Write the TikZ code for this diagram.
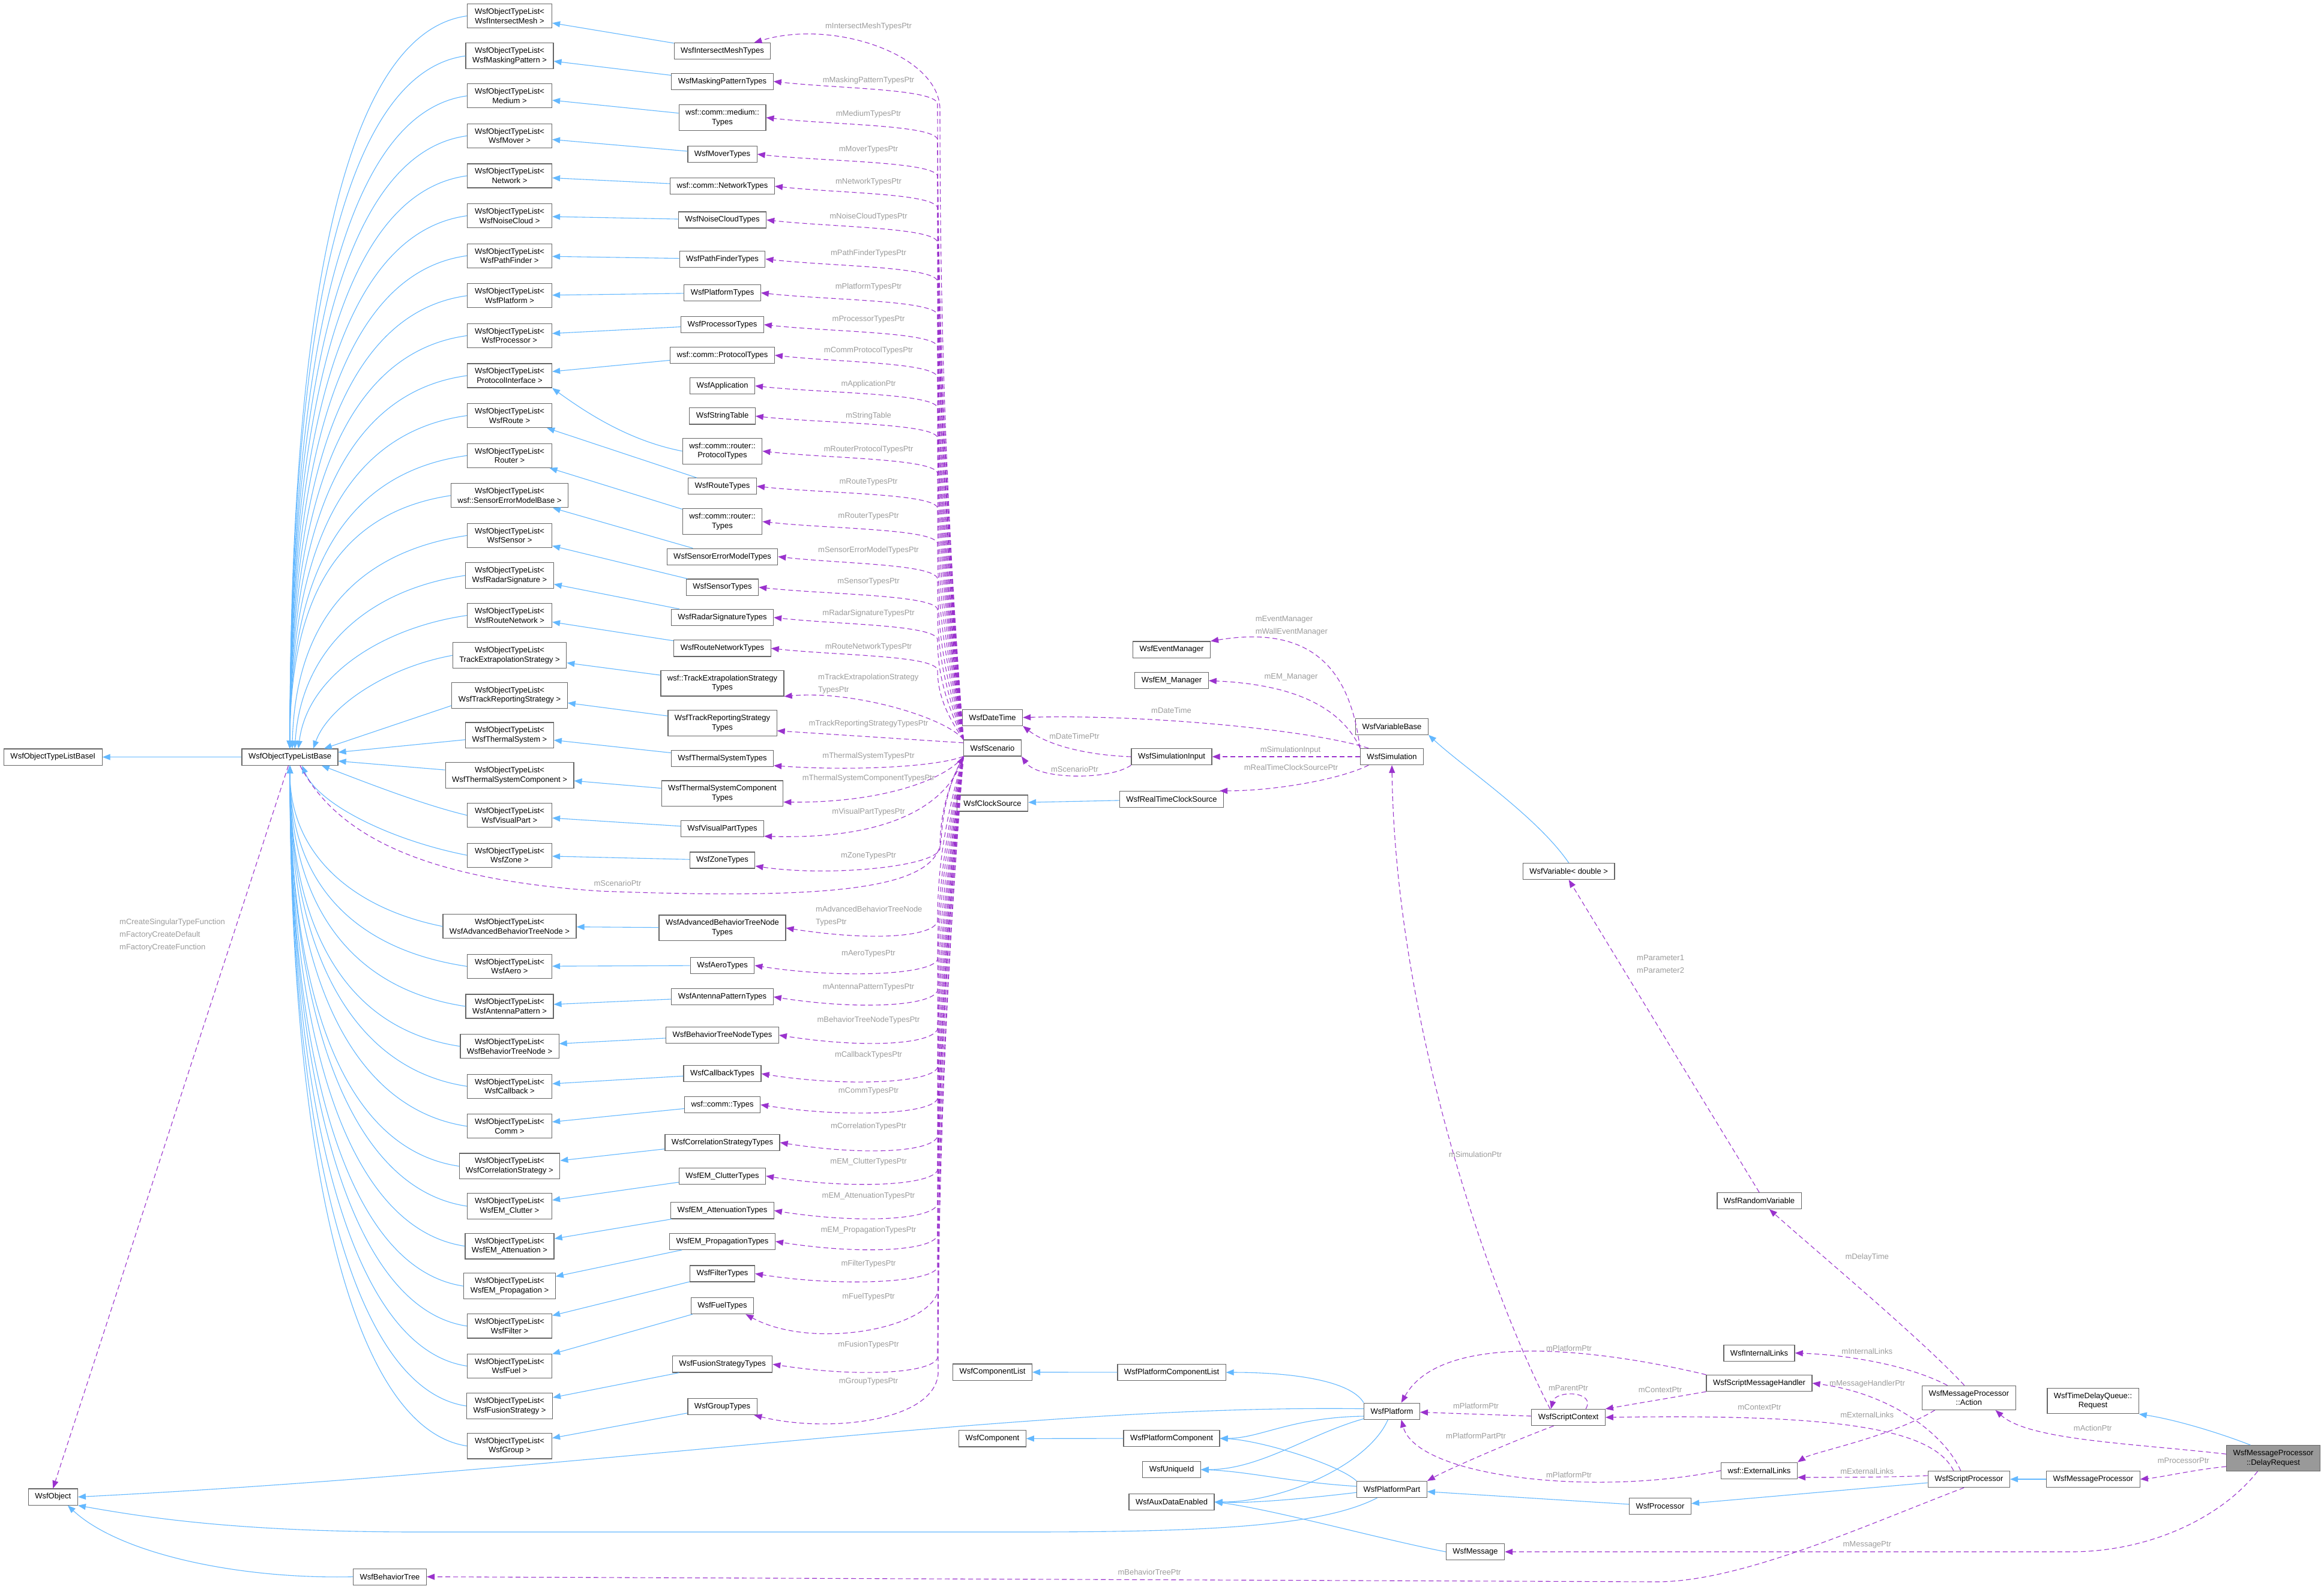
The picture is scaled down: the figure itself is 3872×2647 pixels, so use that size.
\documentclass[tikz,border=0pt]{standalone}
\usepackage{fontspec}
\setmainfont{Liberation Sans}
\usepackage{tikz}
\usetikzlibrary{positioning}
\usetikzlibrary{arrows.meta}

\definecolor{edgeBlue}{HTML}{63B8FF}
\definecolor{edgePurple}{HTML}{9A32CD}
\definecolor{labelGray}{HTML}{9C9C9C}
\definecolor{boxGray}{HTML}{666666}
\definecolor{focusGray}{HTML}{999999}

\begin{document}
\begin{tikzpicture}[x=1pt, y=-1pt,
	cls/.style={rectangle, draw=boxGray, fill=white, line width=1.2pt, inner xsep=11pt, inner ysep=7.5pt, minimum height=27pt, align=center, font=\fontsize{13pt}{15.6pt}\selectfont},
	tlist/.style={cls, minimum width=141pt},
	focus/.style={cls, fill=focusGray},
	inherit/.style={draw=edgeBlue, line width=1.1pt, -{Triangle[length=13pt,width=10pt]}},
	member/.style={draw=edgePurple, line width=1.1pt, dash pattern=on 8pt off 5pt, -{Triangle[length=13pt,width=10pt]}},
	lbl/.style={text=labelGray, inner sep=0pt, align=left, font=\fontsize{13pt}{21pt}\selectfont}]

		\useasboundingbox[fill=white] (0,0) rectangle (3872,2647);

		\node[cls](listBaseI) at (88.3,1261.6){WsfObjectTypeListBaseI};
		\node[cls](listBase) at (483,1261.6){WsfObjectTypeListBase};
		\node[cls](wsfObject) at (88.3,2494.6){WsfObject};
		\node[cls](behaviorTree) at (649.5,2627.6){WsfBehaviorTree};

		\node[tlist](intersectMeshList) at (849,26.6){WsfObjectTypeList<\\WsfIntersectMesh >};
		\node[tlist](maskingPatternList) at (849,93.2){WsfObjectTypeList<\\WsfMaskingPattern >};
		\node[tlist](mediumList) at (849,159.8){WsfObjectTypeList<\\Medium >};
		\node[tlist](moverList) at (849,226.4){WsfObjectTypeList<\\WsfMover >};
		\node[tlist](networkList) at (849,293.0){WsfObjectTypeList<\\Network >};
		\node[tlist](noiseCloudList) at (849,359.6){WsfObjectTypeList<\\WsfNoiseCloud >};
		\node[tlist](pathFinderList) at (849,426.2){WsfObjectTypeList<\\WsfPathFinder >};
		\node[tlist](platformList) at (849,492.8){WsfObjectTypeList<\\WsfPlatform >};
		\node[tlist](processorList) at (849,559.4){WsfObjectTypeList<\\WsfProcessor >};
		\node[tlist](protocolList) at (849,626.0){WsfObjectTypeList<\\ProtocolInterface >};
		\node[tlist](routeList) at (849,692.6){WsfObjectTypeList<\\WsfRoute >};
		\node[tlist](routerList) at (849,759.2){WsfObjectTypeList<\\Router >};
		\node[tlist](sensorErrorList) at (849,825.8){WsfObjectTypeList<\\wsf::SensorErrorModelBase >};
		\node[tlist](sensorList) at (849,892.4){WsfObjectTypeList<\\WsfSensor >};
		\node[tlist](radarSigList) at (849,959.0){WsfObjectTypeList<\\WsfRadarSignature >};
		\node[tlist](routeNetList) at (849,1025.6){WsfObjectTypeList<\\WsfRouteNetwork >};
		\node[tlist](trackExtrapList) at (849,1092.2){WsfObjectTypeList<\\TrackExtrapolationStrategy >};
		\node[tlist](trackReportList) at (849,1158.8){WsfObjectTypeList<\\WsfTrackReportingStrategy >};
		\node[tlist](thermalList) at (849,1225.4){WsfObjectTypeList<\\WsfThermalSystem >};
		\node[tlist](thermalCompList) at (849,1292.0){WsfObjectTypeList<\\WsfThermalSystemComponent >};
		\node[tlist](visualPartList) at (849,1358.6){WsfObjectTypeList<\\WsfVisualPart >};
		\node[tlist](zoneList) at (849,1425.2){WsfObjectTypeList<\\WsfZone >};
		\node[tlist](advTreeList) at (849,1543.8){WsfObjectTypeList<\\WsfAdvancedBehaviorTreeNode >};
		\node[tlist](aeroList) at (849,1610.4){WsfObjectTypeList<\\WsfAero >};
		\node[tlist](antennaList) at (849,1677.0){WsfObjectTypeList<\\WsfAntennaPattern >};
		\node[tlist](treeNodeList) at (849,1743.6){WsfObjectTypeList<\\WsfBehaviorTreeNode >};
		\node[tlist](callbackList) at (849,1810.2){WsfObjectTypeList<\\WsfCallback >};
		\node[tlist](commList) at (849,1876.8){WsfObjectTypeList<\\Comm >};
		\node[tlist](correlationList) at (849,1943.4){WsfObjectTypeList<\\WsfCorrelationStrategy >};
		\node[tlist](clutterList) at (849,2010.0){WsfObjectTypeList<\\WsfEM\_Clutter >};
		\node[tlist](attenuationList) at (849,2076.6){WsfObjectTypeList<\\WsfEM\_Attenuation >};
		\node[tlist](propagationList) at (849,2143.2){WsfObjectTypeList<\\WsfEM\_Propagation >};
		\node[tlist](filterList) at (849,2209.8){WsfObjectTypeList<\\WsfFilter >};
		\node[tlist](fuelList) at (849,2276.4){WsfObjectTypeList<\\WsfFuel >};
		\node[tlist](fusionList) at (849,2343.0){WsfObjectTypeList<\\WsfFusionStrategy >};
		\node[tlist](groupList) at (849,2409.6){WsfObjectTypeList<\\WsfGroup >};

		\node[cls](intersectMeshTypes) at (1203.5,85.3){WsfIntersectMeshTypes};
		\node[cls](maskingPatternTypes) at (1203.5,135.7){WsfMaskingPatternTypes};
		\node[cls](mediumTypes) at (1203.5,196){wsf::comm::medium::\\Types};
		\node[cls](moverTypes) at (1203.5,257){WsfMoverTypes};
		\node[cls](networkTypes) at (1203.5,310.3){wsf::comm::NetworkTypes};
		\node[cls](noiseCloudTypes) at (1203.5,366.5){WsfNoiseCloudTypes};
		\node[cls](pathFinderTypes) at (1203.5,431.7){WsfPathFinderTypes};
		\node[cls](platformTypes) at (1203.5,488){WsfPlatformTypes};
		\node[cls](processorTypes) at (1203.5,541){WsfProcessorTypes};
		\node[cls](protocolTypes) at (1203.5,592){wsf::comm::ProtocolTypes};
		\node[cls](application) at (1203.5,643){WsfApplication};
		\node[cls](stringTable) at (1203.5,693.4){WsfStringTable};
		\node[cls](routerProtocolTypes) at (1203.5,751.8){wsf::comm::router::\\ProtocolTypes};
		\node[cls](routeTypes) at (1203.5,810.3){WsfRouteTypes};
		\node[cls](routerTypes) at (1203.5,869.2){wsf::comm::router::\\Types};
		\node[cls](sensorErrorTypes) at (1203.5,927.7){WsfSensorErrorModelTypes};
		\node[cls](sensorTypes) at (1203.5,978.6){WsfSensorTypes};
		\node[cls](radarSigTypes) at (1203.5,1029){WsfRadarSignatureTypes};
		\node[cls](routeNetTypes) at (1203.5,1080.4){WsfRouteNetworkTypes};
		\node[cls](trackExtrapTypes) at (1203.5,1138.6){wsf::TrackExtrapolationStrategy\\Types};
		\node[cls](trackReportTypes) at (1203.5,1205){WsfTrackReportingStrategy\\Types};
		\node[cls](thermalTypes) at (1203.5,1263.8){WsfThermalSystemTypes};
		\node[cls](thermalCompTypes) at (1203.5,1322.3){WsfThermalSystemComponent\\Types};
		\node[cls](visualPartTypes) at (1203.5,1381.25){WsfVisualPartTypes};
		\node[cls](zoneTypes) at (1203.5,1433.5){WsfZoneTypes};
		\node[cls](advTreeTypes) at (1203.5,1546.4){WsfAdvancedBehaviorTreeNode\\Types};
		\node[cls](aeroTypes) at (1203.5,1608.9){WsfAeroTypes};
		\node[cls](antennaTypes) at (1203.5,1661.2){WsfAntennaPatternTypes};
		\node[cls](treeNodeTypes) at (1203.5,1725){WsfBehaviorTreeNodeTypes};
		\node[cls](callbackTypes) at (1203.5,1789.3){WsfCallbackTypes};
		\node[cls](commTypes) at (1203.5,1841){wsf::comm::Types};
		\node[cls](correlationTypes) at (1203.5,1904){WsfCorrelationStrategyTypes};
		\node[cls](clutterTypes) at (1203.5,1959.8){WsfEM\_ClutterTypes};
		\node[cls](attenuationTypes) at (1203.5,2017.4){WsfEM\_AttenuationTypes};
		\node[cls](propagationTypes) at (1203.5,2068.8){WsfEM\_PropagationTypes};
		\node[cls](filterTypes) at (1203.5,2122.5){WsfFilterTypes};
		\node[cls](fuelTypes) at (1203.5,2176){WsfFuelTypes};
		\node[cls](fusionTypes) at (1203.5,2273.4){WsfFusionStrategyTypes};
		\node[cls](groupTypes) at (1203.5,2344){WsfGroupTypes};

		\node[cls](dateTime) at (1653.5,1195.7){WsfDateTime};
		\node[cls](scenario) at (1653.5,1246.4){WsfScenario};
		\node[cls](clockSource) at (1653.5,1338.4){WsfClockSource};
		\node[cls](componentList) at (1653.5,2286.6){WsfComponentList};
		\node[cls](component) at (1653.5,2397.4){WsfComponent};

		\node[cls](eventManager) at (1952,1082.6){WsfEventManager};
		\node[cls](emManager) at (1952,1134.3){WsfEM\_Manager};
		\node[cls](simInput) at (1952,1261){WsfSimulationInput};
		\node[cls](rtClock) at (1952,1332){WsfRealTimeClockSource};
		\node[cls](platCompList) at (1952,2287){WsfPlatformComponentList};
		\node[cls](platComp) at (1952,2397){WsfPlatformComponent};
		\node[cls](uniqueId) at (1952,2449){WsfUniqueId};
		\node[cls](auxData) at (1952,2503){WsfAuxDataEnabled};

		\node[cls](varBase) at (2319,1210.6){WsfVariableBase};
		\node[cls](simulation) at (2319,1261){WsfSimulation};
		\node[cls](platform) at (2319,2351.7){WsfPlatform};
		\node[cls](platformPart) at (2319,2482){WsfPlatformPart};
		\node[cls](wsfMessage) at (2458,2586){WsfMessage};
		\node[cls](varDouble) at (2613.7,1452){WsfVariable< double >};
		\node[cls](scriptContext) at (2613,2362){WsfScriptContext};
		\node[cls](wsfProcessor) at (2766,2510){WsfProcessor};

		\node[cls](randVar) at (2931,2001){WsfRandomVariable};
		\node[cls](internalLinks) at (2931,2254.7){WsfInternalLinks};
		\node[cls](msgHandler) at (2931,2305){WsfScriptMessageHandler};
		\node[cls](externalLinks) at (2931,2450.7){wsf::ExternalLinks};

		\node[cls](action) at (3280.3,2329.3){WsfMessageProcessor\\::Action};
		\node[cls](scriptProc) at (3280.3,2465){WsfScriptProcessor};
		\node[cls](delayQueueReq) at (3487,2334.5){WsfTimeDelayQueue::\\Request};
		\node[cls](msgProc) at (3487.4,2465){WsfMessageProcessor};
		\node[focus](delayReq) at (3787.5,2430){WsfMessageProcessor\\::DelayRequest};

		\draw[inherit] (listBase) -- (listBaseI);

		\draw[inherit] (intersectMeshTypes) -- (intersectMeshList);
		\draw[inherit] (maskingPatternTypes) -- (maskingPatternList);
		\draw[inherit] (mediumTypes) -- (mediumList);
		\draw[inherit] (moverTypes) -- (moverList);
		\draw[inherit] (networkTypes) -- (networkList);
		\draw[inherit] (noiseCloudTypes) -- (noiseCloudList);
		\draw[inherit] (pathFinderTypes) -- (pathFinderList);
		\draw[inherit] (platformTypes) -- (platformList);
		\draw[inherit] (processorTypes) -- (processorList);
		\draw[inherit] (protocolTypes) -- (protocolList);
		\draw[inherit] (routerProtocolTypes.west) .. controls (1050,735) and (980,690) .. (protocolList.south east);
		\draw[inherit] (routeTypes) -- (routeList);
		\draw[inherit] (routerTypes) -- (routerList);
		\draw[inherit] (sensorErrorTypes) -- (sensorErrorList);
		\draw[inherit] (sensorTypes) -- (sensorList);
		\draw[inherit] (radarSigTypes) -- (radarSigList);
		\draw[inherit] (routeNetTypes) -- (routeNetList);
		\draw[inherit] (trackExtrapTypes) -- (trackExtrapList);
		\draw[inherit] (trackReportTypes) -- (trackReportList);
		\draw[inherit] (thermalTypes) -- (thermalList);
		\draw[inherit] (thermalCompTypes) -- (thermalCompList);
		\draw[inherit] (visualPartTypes) -- (visualPartList);
		\draw[inherit] (zoneTypes) -- (zoneList);
		\draw[inherit] (advTreeTypes) -- (advTreeList);
		\draw[inherit] (aeroTypes) -- (aeroList);
		\draw[inherit] (antennaTypes) -- (antennaList);
		\draw[inherit] (treeNodeTypes) -- (treeNodeList);
		\draw[inherit] (callbackTypes) -- (callbackList);
		\draw[inherit] (commTypes) -- (commList);
		\draw[inherit] (correlationTypes) -- (correlationList);
		\draw[inherit] (clutterTypes) -- (clutterList);
		\draw[inherit] (attenuationTypes) -- (attenuationList);
		\draw[inherit] (propagationTypes) -- (propagationList);
		\draw[inherit] (filterTypes) -- (filterList);
		\draw[inherit] (fuelTypes) -- (fuelList);
		\draw[inherit] (fusionTypes) -- (fusionList);
		\draw[inherit] (groupTypes) -- (groupList);

		\draw[inherit] (intersectMeshList.west) .. controls +(-220,30) and +(0,-672) .. (listBase.north);
		\draw[inherit] (maskingPatternList.west) .. controls +(-220,30) and +(0,-635) .. (listBase.north);
		\draw[inherit] (mediumList.west) .. controls +(-220,30) and +(0,-598) .. (listBase.north);
		\draw[inherit] (moverList.west) .. controls +(-220,30) and +(0,-562) .. (listBase.north);
		\draw[inherit] (networkList.west) .. controls +(-220,30) and +(0,-525) .. (listBase.north);
		\draw[inherit] (noiseCloudList.west) .. controls +(-220,30) and +(0,-489) .. (listBase.north);
		\draw[inherit] (pathFinderList.west) .. controls +(-220,30) and +(0,-452) .. (listBase.north);
		\draw[inherit] (platformList.west) .. controls +(-220,30) and +(0,-415) .. (listBase.north);
		\draw[inherit] (processorList.west) .. controls +(-220,30) and +(0,-379) .. (listBase.north);
		\draw[inherit] (protocolList.west) .. controls +(-220,30) and +(0,-342) .. (listBase.north);
		\draw[inherit] (routeList.west) .. controls +(-220,30) and +(0,-305) .. (listBase.north);
		\draw[inherit] (routerList.west) .. controls +(-220,30) and +(0,-269) .. (listBase.north);
		\draw[inherit] (sensorErrorList.west) .. controls +(-200,30) and +(0,-232) .. (listBase.north);
		\draw[inherit] (sensorList.west) .. controls +(-200,30) and +(5,-196) .. (listBase.75);
		\draw[inherit] (radarSigList.west) .. controls +(-170,25) and +(10,-159) .. (listBase.60);
		\draw[inherit] (routeNetList.west) .. controls +(-140,20) and +(15,-122) .. (listBase.45);
		\draw[inherit] (trackExtrapList.west) .. controls +(-110,20) and +(25,-70) .. (listBase.20);
		\draw[inherit] (trackReportList.-170) -- (listBase.14);
		\draw[inherit] (thermalList) -- (listBase);
		\draw[inherit] (thermalCompList) -- (listBase);
		\draw[inherit] (visualPartList.west) .. controls (700,1340) and (600,1300) .. (listBase.-15);
		\draw[inherit] (zoneList.west) .. controls (650,1400) and (530,1340) .. (listBase.-35);
		\draw[inherit] (advTreeList.west) .. controls +(-150,-30) and +(0,148) .. (listBase.south);
		\draw[inherit] (aeroList.west) .. controls +(-200,-30) and +(0,184) .. (listBase.south);
		\draw[inherit] (antennaList.west) .. controls +(-200,-30) and +(0,221) .. (listBase.south);
		\draw[inherit] (treeNodeList.west) .. controls +(-200,-30) and +(0,258) .. (listBase.south);
		\draw[inherit] (callbackList.west) .. controls +(-200,-30) and +(0,294) .. (listBase.south);
		\draw[inherit] (commList.west) .. controls +(-200,-30) and +(0,331) .. (listBase.south);
		\draw[inherit] (correlationList.west) .. controls +(-200,-30) and +(0,368) .. (listBase.south);
		\draw[inherit] (clutterList.west) .. controls +(-200,-30) and +(0,404) .. (listBase.south);
		\draw[inherit] (attenuationList.west) .. controls +(-200,-30) and +(0,441) .. (listBase.south);
		\draw[inherit] (propagationList.west) .. controls +(-200,-30) and +(0,477) .. (listBase.south);
		\draw[inherit] (filterList.west) .. controls +(-200,-30) and +(0,514) .. (listBase.south);
		\draw[inherit] (fuelList.west) .. controls +(-200,-30) and +(0,551) .. (listBase.south);
		\draw[inherit] (fusionList.west) .. controls +(-200,-30) and +(0,587) .. (listBase.south);
		\draw[inherit] (groupList.west) .. controls +(-200,-30) and +(0,624) .. (listBase.south);

		\draw[member] (scenario.north west) .. controls +(-28,-369) and +(0,369) .. (1566,180) .. controls +(-4,-90) and +(130,-40) .. (intersectMeshTypes.15);
		\draw[member] (scenario.north west) .. controls +(-28,-371) and +(0,371) .. (1562,172) .. controls +(-8,-24) and +(110,12) .. (maskingPatternTypes.east);
		\draw[member] (scenario.north west) .. controls +(-28,-350) and +(0,350) .. (1562,232) .. controls +(-8,-24) and +(110,12) .. (mediumTypes.east);
		\draw[member] (scenario.north west) .. controls +(-28,-329) and +(0,329) .. (1562,293) .. controls +(-8,-24) and +(110,12) .. (moverTypes.east);
		\draw[member] (scenario.north west) .. controls +(-28,-310) and +(0,310) .. (1562,346) .. controls +(-8,-24) and +(110,12) .. (networkTypes.east);
		\draw[member] (scenario.north west) .. controls +(-28,-291) and +(0,291) .. (1562,403) .. controls +(-8,-24) and +(110,12) .. (noiseCloudTypes.east);
		\draw[member] (scenario.north west) .. controls +(-28,-268) and +(0,268) .. (1562,468) .. controls +(-8,-24) and +(110,12) .. (pathFinderTypes.east);
		\draw[member] (scenario.north west) .. controls +(-28,-248) and +(0,248) .. (1562,524) .. controls +(-8,-24) and +(110,12) .. (platformTypes.east);
		\draw[member] (scenario.north west) .. controls +(-28,-230) and +(0,230) .. (1562,577) .. controls +(-8,-24) and +(110,12) .. (processorTypes.east);
		\draw[member] (scenario.north west) .. controls +(-28,-212) and +(0,212) .. (1562,628) .. controls +(-8,-24) and +(110,12) .. (protocolTypes.east);
		\draw[member] (scenario.north west) .. controls +(-28,-194) and +(0,194) .. (1562,679) .. controls +(-8,-24) and +(110,12) .. (application.east);
		\draw[member] (scenario.north west) .. controls +(-28,-176) and +(0,176) .. (1562,729) .. controls +(-8,-24) and +(110,12) .. (stringTable.east);
		\draw[member] (scenario.north west) .. controls +(-28,-156) and +(0,156) .. (1562,788) .. controls +(-8,-24) and +(110,12) .. (routerProtocolTypes.east);
		\draw[member] (scenario.north west) .. controls +(-28,-135) and +(0,135) .. (1562,846) .. controls +(-8,-24) and +(110,12) .. (routeTypes.east);
		\draw[member] (scenario.north west) .. controls +(-28,-115) and +(0,115) .. (1562,905) .. controls +(-8,-24) and +(110,12) .. (routerTypes.east);
		\draw[member] (scenario.north west) .. controls +(-28,-94) and +(0,94) .. (1562,964) .. controls +(-8,-24) and +(110,12) .. (sensorErrorTypes.east);
		\draw[member] (scenario.north west) .. controls +(-28,-76) and +(0,76) .. (1562,1015) .. controls +(-8,-24) and +(110,12) .. (sensorTypes.east);
		\draw[member] (scenario.north west) .. controls +(-28,-59) and +(0,59) .. (1562,1065) .. controls +(-8,-24) and +(110,12) .. (radarSigTypes.east);
		\draw[member] (scenario.north west) .. controls +(-28,-41) and +(0,41) .. (1562,1116) .. controls +(-8,-24) and +(110,12) .. (routeNetTypes.east);
		\draw[member] (scenario.north west) .. controls (1575,1195) and (1420,1150) .. (trackExtrapTypes.south east);
		\draw[member] (scenario.170) -- (trackReportTypes.-8);
		\draw[member] (scenario.south west) .. controls (1560,1278) and (1420,1285) .. (thermalTypes.-8);
		\draw[member] (scenario.south west) .. controls (1580,1295) and (1480,1338) .. (thermalCompTypes.-8);
		\draw[member] (scenario.south west) .. controls (1585,1330) and (1500,1400) .. (visualPartTypes.-10);
		\draw[member] (scenario.south west) .. controls +(-28,54) and +(0,-54) .. (1566,1415) .. controls +(-10,30) and +(120,18) .. (zoneTypes.-10);
		\draw[member] (scenario.south west) .. controls +(-28,97) and +(0,-97) .. (1562,1536) .. controls +(-10,26) and +(140,22) .. (advTreeTypes.east);
		\draw[member] (scenario.south west) .. controls +(-28,119) and +(0,-119) .. (1562,1599) .. controls +(-10,26) and +(140,22) .. (aeroTypes.east);
		\draw[member] (scenario.south west) .. controls +(-28,137) and +(0,-137) .. (1562,1651) .. controls +(-10,26) and +(140,22) .. (antennaTypes.east);
		\draw[member] (scenario.south west) .. controls +(-28,159) and +(0,-159) .. (1562,1715) .. controls +(-10,26) and +(140,22) .. (treeNodeTypes.east);
		\draw[member] (scenario.south west) .. controls +(-28,182) and +(0,-182) .. (1562,1779) .. controls +(-10,26) and +(140,22) .. (callbackTypes.east);
		\draw[member] (scenario.south west) .. controls +(-28,200) and +(0,-200) .. (1562,1831) .. controls +(-10,26) and +(140,22) .. (commTypes.east);
		\draw[member] (scenario.south west) .. controls +(-28,222) and +(0,-222) .. (1562,1894) .. controls +(-10,26) and +(140,22) .. (correlationTypes.east);
		\draw[member] (scenario.south west) .. controls +(-28,241) and +(0,-241) .. (1562,1950) .. controls +(-10,26) and +(140,22) .. (clutterTypes.east);
		\draw[member] (scenario.south west) .. controls +(-28,261) and +(0,-261) .. (1562,2007) .. controls +(-10,26) and +(140,22) .. (attenuationTypes.east);
		\draw[member] (scenario.south west) .. controls +(-28,280) and +(0,-280) .. (1562,2059) .. controls +(-10,26) and +(140,22) .. (propagationTypes.east);
		\draw[member] (scenario.south west) .. controls +(-28,298) and +(0,-298) .. (1562,2112) .. controls +(-10,26) and +(140,22) .. (filterTypes.east);
		\draw[member] (scenario.south west) .. controls +(-28,311) and +(0,-311) .. (1563,2150) .. controls +(-13,65) and +(110,60) .. (fuelTypes.-20);
		\draw[member] (scenario.south west) .. controls +(-28,351) and +(0,-351) .. (1562,2263) .. controls +(-10,26) and +(140,22) .. (fusionTypes.east);
		\draw[member] (scenario.south west) .. controls +(-28,360) and +(0,-360) .. (1563,2290) .. controls +(-8,80) and +(120,30) .. (groupTypes.-15);

		\draw[member] (listBase.-40) .. controls (560,1390) and (700,1465) .. (1000,1485) .. controls (1400,1500) and (1560,1480) .. (1568,1400) .. controls (1572,1330) and (1590,1290) .. (scenario.south west);
		\draw[member] (listBase.-100) -- (wsfObject.north);

		\draw[member] (simulation.north west) .. controls (2250,1120) and (2190,1040) .. (eventManager.north east);
		\draw[member] (simulation.165) .. controls (2230,1170) and (2140,1140) .. (emManager.east);
		\draw[member] (simulation.160) .. controls (2180,1215) and (1900,1190) .. (dateTime.east);
		\draw[member] (simulation) -- (simInput);
		\draw[member] (simulation.200) .. controls (2230,1300) and (2120,1318) .. (rtClock.10);
		\draw[member] (simInput.west) .. controls (1800,1258) and (1740,1238) .. (dateTime.south east);
		\draw[member] (simInput.south west) .. controls (1850,1300) and (1730,1300) .. (scenario.south east);
		\draw[inherit] (rtClock) -- (clockSource);
		\draw[inherit] (varDouble.north) .. controls (2560,1360) and (2440,1280) .. (varBase.south east);

		\draw[member] (scriptContext.155) .. controls (2480,2150) and (2325,1700) .. (simulation.south);
		\draw[member] (randVar.north) -- (varDouble.south);
		\draw[member] (action.110) .. controls (3200,2230) and (3020,2080) .. (randVar.-40);
		\draw[member] (action.150) .. controls (3180,2275) and (3080,2258) .. (internalLinks.east);
		\draw[member] (action.-160) .. controls (3150,2395) and (3020,2420) .. (externalLinks.north east);
		\draw[member] (scriptProc.134) .. controls (3240,2390) and (3150,2322) .. (msgHandler.east);
		\draw[member] (scriptProc.151) .. controls (3220,2380) and (3060,2356) .. (scriptContext.east);
		\draw[member] (scriptProc.175) .. controls (3150,2462) and (3050,2462) .. (externalLinks.-10);
		\draw[member] (scriptProc.-120) .. controls (3100,2545) and (2900,2636) .. (2760,2636) -- (behaviorTree.east);
		\draw[member] (msgHandler.north west) .. controls (2650,2245) and (2400,2220) .. (platform.42);
		\draw[member] (msgHandler.south west) -- (scriptContext.north east);
		\draw[member] (scriptContext) -- (platform);
		\draw[member] (scriptContext.26) .. controls (2660,2318) and (2592,2316) .. (scriptContext.154);
		\draw[member] (scriptContext.-150) .. controls (2500,2410) and (2410,2450) .. (platformPart.north east);
		\draw[member] (externalLinks.west) .. controls (2650,2495) and (2360,2460) .. (platform.-42);
		\draw[member] (delayReq.175) .. controls (3550,2405) and (3380,2400) .. (action.-25);
		\draw[member] (delayReq.-170) .. controls (3650,2450) and (3600,2462) .. (msgProc.east);
		\draw[member] (delayReq.-140) .. controls (3700,2530) and (3580,2586) .. (3450,2586) -- (wsfMessage.east);

		\draw[inherit] (delayReq.150) .. controls (3690,2385) and (3620,2365) .. (delayQueueReq.south east);
		\draw[inherit] (msgProc) -- (scriptProc);
		\draw[inherit] (scriptProc) -- (wsfProcessor);
		\draw[inherit] (wsfProcessor) -- (platformPart);

		\draw[inherit] (platform.north west) .. controls (2250,2300) and (2150,2287) .. (platCompList.east);
		\draw[inherit] (platform.175) .. controls (1700,2340) and (1000,2450) .. (wsfObject.east);
		\draw[inherit] (platform.190) .. controls (2150,2362) and (2100,2397) .. (platComp.east);
		\draw[inherit] (platform.-165) .. controls (2180,2390) and (2100,2449) .. (uniqueId.east);
		\draw[inherit] (platform.-115) .. controls (2280,2440) and (2140,2503) .. (auxData.east);
		\draw[inherit] (platformPart.north west) .. controls (2230,2440) and (2100,2400) .. (platComp.east);
		\draw[inherit] (platformPart.175) .. controls (2150,2470) and (2080,2452) .. (uniqueId.east);
		\draw[inherit] (platformPart.-175) .. controls (2150,2500) and (2080,2505) .. (auxData.east);
		\draw[inherit] (platformPart.-150) .. controls (2200,2545) and (2000,2553) .. (1700,2553) -- (700,2553) .. controls (400,2553) and (250,2530) .. (wsfObject.south east);
		\draw[inherit] (wsfMessage.west) .. controls (2300,2565) and (2120,2515) .. (auxData.east);
		\draw[inherit] (behaviorTree.west) .. controls (400,2632) and (200,2590) .. (wsfObject.-30);
		\draw[inherit] (platCompList) -- (componentList);
		\draw[inherit] (platComp) -- (component);

		\node[lbl](intersectMeshLbl) at (1447,44.6){mIntersectMeshTypesPtr};
		\node[lbl](maskingPatternLbl) at (1447,134.4){mMaskingPatternTypesPtr};
		\node[lbl](mediumLbl) at (1447,189.7){mMediumTypesPtr};
		\node[lbl](moverLbl) at (1447,249.6){mMoverTypesPtr};
		\node[lbl](networkLbl) at (1447,303.6){mNetworkTypesPtr};
		\node[lbl](noiseCloudLbl) at (1447,361.6){mNoiseCloudTypesPtr};
		\node[lbl](pathFinderLbl) at (1447,422.3){mPathFinderTypesPtr};
		\node[lbl](platformTypesLbl) at (1447,478.6){mPlatformTypesPtr};
		\node[lbl](processorTypesLbl) at (1447,532.6){mProcessorTypesPtr};
		\node[lbl](protocolLbl) at (1447,584.4){mCommProtocolTypesPtr};
		\node[lbl](applicationLbl) at (1447,640.6){mApplicationPtr};
		\node[lbl](stringTableLbl) at (1447,692.9){mStringTable};
		\node[lbl](routerProtocolLbl) at (1447,749.6){mRouterProtocolTypesPtr};
		\node[lbl](routeLbl) at (1447,803.6){mRouteTypesPtr};
		\node[lbl](routerLbl) at (1447,860.7){mRouterTypesPtr};
		\node[lbl](sensorErrorLbl) at (1447,917.4){mSensorErrorModelTypesPtr};
		\node[lbl](sensorLbl) at (1447,969.6){mSensorTypesPtr};
		\node[lbl](radarSigLbl) at (1447,1022.3){mRadarSignatureTypesPtr};
		\node[lbl](routeNetLbl) at (1447,1078.6){mRouteNetworkTypesPtr};
		\node[lbl, anchor=west](trackExtrapLbl) at (1363,1140){mTrackExtrapolationStrategy\\TypesPtr};
		\node[lbl](trackReportLbl) at (1447,1205.8){mTrackReportingStrategyTypesPtr};
		\node[lbl](thermalLbl) at (1447,1260.3){mThermalSystemTypesPtr};
		\node[lbl](thermalCompLbl) at (1447,1297.3){mThermalSystemComponentTypesPtr};
		\node[lbl](visualPartLbl) at (1447,1353.6){mVisualPartTypesPtr};
		\node[lbl](zoneLbl) at (1447,1426.8){mZoneTypesPtr};
		\node[lbl](listScenarioLbl) at (1029,1472){mScenarioPtr};
		\node[lbl, anchor=west](advTreeLbl) at (1359,1527){mAdvancedBehaviorTreeNode\\TypesPtr};
		\node[lbl](aeroLbl) at (1447,1589.7){mAeroTypesPtr};
		\node[lbl](antennaLbl) at (1447,1645.5){mAntennaPatternTypesPtr};
		\node[lbl](treeNodeLbl) at (1447,1700.4){mBehaviorTreeNodeTypesPtr};
		\node[lbl](callbackLbl) at (1447,1758.5){mCallbackTypesPtr};
		\node[lbl](commLbl) at (1447,1818.3){mCommTypesPtr};
		\node[lbl](correlationLbl) at (1447,1876.8){mCorrelationTypesPtr};
		\node[lbl](clutterLbl) at (1447,1936.2){mEM\_ClutterTypesPtr};
		\node[lbl](attenuationLbl) at (1447,1993.3){mEM\_AttenuationTypesPtr};
		\node[lbl](propagationLbl) at (1447,2050.4){mEM\_PropagationTypesPtr};
		\node[lbl](filterLbl) at (1447,2106.5){mFilterTypesPtr};
		\node[lbl](fuelLbl) at (1447,2161.3){mFuelTypesPtr};
		\node[lbl](fusionLbl) at (1447,2241.4){mFusionTypesPtr};
		\node[lbl](groupLbl) at (1447,2302.5){mGroupTypesPtr};
		\node[lbl, anchor=west](factoryLbl) at (199,1558.5){mCreateSingularTypeFunction\\mFactoryCreateDefault\\mFactoryCreateFunction};

		\node[lbl, anchor=west](eventManagerLbl) at (2091.6,1042.5){mEventManager\\mWallEventManager};
		\node[lbl](emManagerLbl) at (2151,1128.7){mEM\_Manager};
		\node[lbl](dateTimeLbl) at (1951.5,1183.5){mDateTime};
		\node[lbl](simInputLbl) at (2150,1249.7){mSimulationInput};
		\node[lbl](rtClockLbl) at (2151,1278.4){mRealTimeClockSourcePtr};
		\node[lbl](dateTimePtrLbl) at (1790,1227){mDateTimePtr};
		\node[lbl](inputScenarioLbl) at (1790.5,1281.7){mScenarioPtr};
		\node[lbl, anchor=west](parameterLbl) at (2727,1607){mParameter1\\mParameter2};
		\node[lbl](simulationPtrLbl) at (2458,1923.7){mSimulationPtr};
		\node[lbl](delayTimeLbl) at (3110.7,2095.3){mDelayTime};
		\node[lbl](handlerPlatformLbl) at (2614,2247.3){mPlatformPtr};
		\node[lbl](internalLinksLbl) at (3110.7,2251.6){mInternalLinks};
		\node[lbl](parentLbl) at (2613,2313.5){mParentPtr};
		\node[lbl](handlerContextLbl) at (2766,2316){mContextPtr};
		\node[lbl](msgHandlerLbl) at (3111,2306.4){mMessageHandlerPtr};
		\node[lbl](contextPlatformLbl) at (2459,2343){mPlatformPtr};
		\node[lbl](procContextLbl) at (2931.5,2345.4){mContextPtr};
		\node[lbl](actionLinksLbl) at (3110.7,2357.4){mExternalLinks};
		\node[lbl](actionPtrLbl) at (3486.7,2380.2){mActionPtr};
		\node[lbl](platformPartLbl) at (2459,2393){mPlatformPartPtr};
		\node[lbl](processorPtrLbl) at (3637.7,2434.5){mProcessorPtr};
		\node[lbl](procLinksLbl) at (3110.7,2452.2){mExternalLinks};
		\node[lbl](linksPlatformLbl) at (2614,2457.4){mPlatformPtr};
		\node[lbl](messagePtrLbl) at (3110.7,2574.6){mMessagePtr};
		\node[lbl](behaviorTreeLbl) at (1915,2620){mBehaviorTreePtr};

	\end{tikzpicture}
\end{document}
